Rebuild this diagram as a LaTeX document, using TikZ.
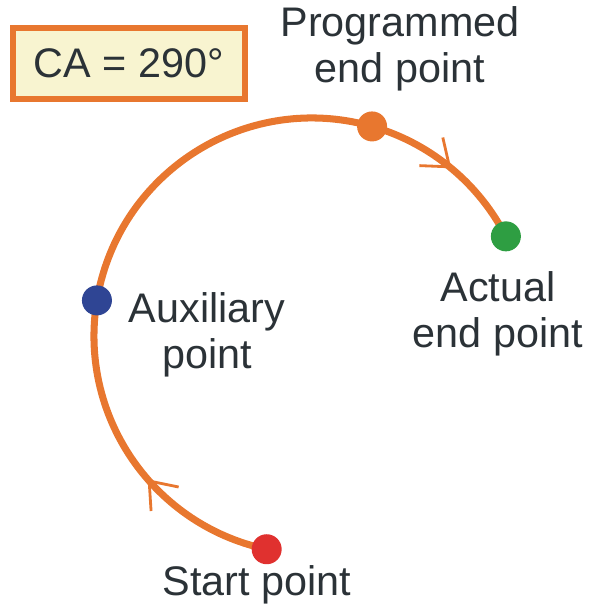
\documentclass[tikz,border=0pt]{standalone}
\usepackage{fontspec}
\setmainfont{Liberation Sans}
\usetikzlibrary{arrows.meta,decorations.markings}
\definecolor{arcorange}{HTML}{E8772F}
\definecolor{boxfill}{HTML}{F8F4D0}
\definecolor{textgray}{HTML}{2B3237}
\definecolor{dotred}{HTML}{E0312F}
\definecolor{dotblue}{HTML}{2F4594}
\definecolor{dotgreen}{HTML}{2E9E42}
\tikzset{
  label/.style={font=\fontsize{29.4}{32.5}\selectfont, text=textgray, align=center},
  arcline/.style={arcorange, line width=5pt},
  barb/.tip={Straight Barb[length=17pt, width=26pt, line width=2pt]},
}
\begin{document}
\begin{tikzpicture}[x=0.025cm, y=0.025cm]
\useasboundingbox (0,0) rectangle (588,611);

\begin{scope}[shift={(312,275)}]
        \coordinate (S) at (258:218);
        \coordinate (X) at (170.6:218);
        \coordinate (P) at (74:218);
        \coordinate (E) at (27.2:218);

        % Bogen
        \draw[arcline, postaction={decorate, decoration={markings,
              mark=at position 0.16 with {\arrow{barb}},
              mark=at position 0.9 with {\arrow{barb}}}}]
              (S) arc[start angle=258, end angle=27.2, radius=218];

        % Punkte
        \fill[dotred] (S) circle[radius=15];
        \fill[dotblue] (X) circle[radius=15];
        \fill[arcorange] (P) circle[radius=15];
        \fill[dotgreen] (E) circle[radius=15];
\end{scope}

\node[label] (start) at (257,26) {Start point};
\node[label] (aux) at (207,276) {Auxiliary\\point};
\node[label] (prog) at (400,562.5) {Programmed\\end point};
\node[label] (act) at (498,297.5) {Actual\\end point};
\node[label, draw=arcorange, fill=boxfill, line width=4.2pt,
      minimum width=5.8cm, minimum height=1.775cm] (ca) at (129,547.5) {CA = 290°};

\end{tikzpicture}
\end{document}
